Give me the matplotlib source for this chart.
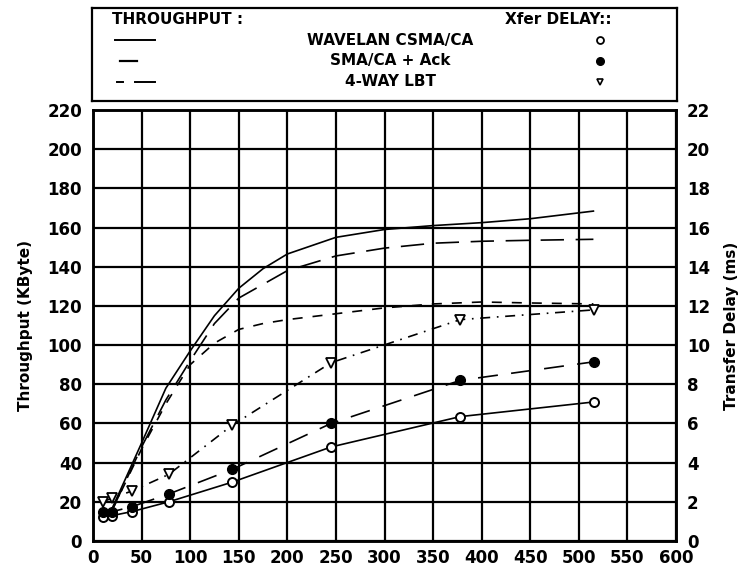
import matplotlib
matplotlib.use('Agg')
import matplotlib.pyplot as plt
from matplotlib import font_manager

# throughput curves (left axis, KByte) vs message size
tp_x = [20, 50, 75, 100, 125, 150, 175, 200, 250, 300, 350, 400, 450, 515]
tp_wavelan = [17, 50, 78, 97, 115, 129, 139, 146.5, 155, 159, 161, 162.5, 164.5, 168.4]
tp_ack = [16, 48, 72, 92, 111, 124, 131, 138, 145.5, 149.5, 152, 153, 153.5, 154]
tp_lbt = [16, 47, 70, 90, 101, 108, 111, 113, 116, 119, 121, 122, 121.5, 121]

# transfer delay points (right axis, ms)
dl_x = [10, 20, 40, 78, 143, 245, 378, 516]
dl_wavelan = [1.2, 1.3, 1.5, 2.0, 3.0, 4.8, 6.35, 7.1]
dl_ack = [1.5, 1.5, 1.75, 2.4, 3.65, 6.0, 8.2, 9.15]
dl_lbt = [2.0, 2.2, 2.55, 3.4, 5.9, 9.1, 11.3, 11.8]

x_ticks = list(range(0, 601, 50))
left_ticks = list(range(0, 221, 20))
right_ticks = list(range(0, 23, 2))

names = [f.name for f in font_manager.fontManager.ttflist]
narrow = 'Liberation Sans Narrow' if 'Liberation Sans Narrow' in names else 'DejaVu Sans'

W, H = 740, 567
fig = plt.figure(figsize=(W / 100, H / 100), dpi=100)
ax = fig.add_axes([93 / W, 1 - 541 / H, (676 - 93) / W, (541 - 110) / H])
ax2 = ax.twinx()

k = 'black'
ax.plot(tp_x, tp_wavelan, color=k, lw=1.2)
ax.plot(tp_x, tp_ack, color=k, lw=1.2, dashes=(14, 7))
ax.plot(tp_x, tp_lbt, color=k, lw=1.2, dashes=(6, 6))

ax2.plot(dl_x, dl_wavelan, color=k, lw=1.2, marker='o', ms=6.5, mfc='white', mew=1.4)
ax2.plot(dl_x, dl_ack, color=k, lw=1.2, dashes=(12, 8), marker='o', ms=7, mfc=k)
ax2.plot(dl_x, dl_lbt, color=k, lw=1.2, dashes=(6, 4, 1, 4), marker='v', ms=6.5, mfc='white', mew=1.3)

ax.set_xlim(0, 600)
ax.set_ylim(0, 220)
ax2.set_ylim(0, 22)
ax.set_xticks(x_ticks)
ax.set_yticks(left_ticks)
ax2.set_yticks(right_ticks)
ax.grid(True, color=k, lw=1.6)
for a in (ax, ax2):
    a.tick_params(length=0, labelsize=12, pad=8)
    for lab in a.get_xticklabels() + a.get_yticklabels():
        lab.set_fontweight('bold')
    for s in a.spines.values():
        s.set_linewidth(1.8)
ax.tick_params(axis='x', pad=6)

ax.set_ylabel('Throughput (KByte)', fontsize=11, fontweight='bold', labelpad=10)
ax2.set_ylabel('Transfer Delay (ms)', fontsize=11, fontweight='bold', labelpad=10)

# legend box drawn by hand like the original
lg = fig.add_axes([92 / W, 1 - 101 / H, (677 - 92) / W, (101 - 8) / H])
lg.set_xlim(0, 585)
lg.set_ylim(93, 0)
lg.set_xticks([])
lg.set_yticks([])
for s in lg.spines.values():
    s.set_linewidth(1.6)
fnt = dict(family=narrow, fontweight='bold', fontsize=11, va='center')
lg.text(20, 11, 'THROUGHPUT :', ha='left', **fnt)
lg.text(413, 11, 'Xfer DELAY::', ha='left', **fnt)
rows = ['WAVELAN CSMA/CA', 'SMA/CA + Ack', '4-WAY LBT']
row_y = [32, 53, 74]
for name, yy in zip(rows, row_y):
    lg.text(298, yy, name, ha='center', **fnt)
lg.plot([23, 63], [32, 32], color=k, lw=1.4)
lg.plot([28, 45], [53, 53], color=k, lw=1.6)
lg.plot([25, 31], [74, 74], color=k, lw=1.4)
lg.plot([43, 63], [74, 74], color=k, lw=1.4)
lg.plot([508], [32], 'o', color=k, ms=5, mfc='white', mew=1.3)
lg.plot([508], [53], 'o', color=k, ms=5.5)
lg.plot([508], [74], 'v', color=k, ms=5, mfc='white', mew=1.2)

fig.savefig('out.png', dpi=100)
